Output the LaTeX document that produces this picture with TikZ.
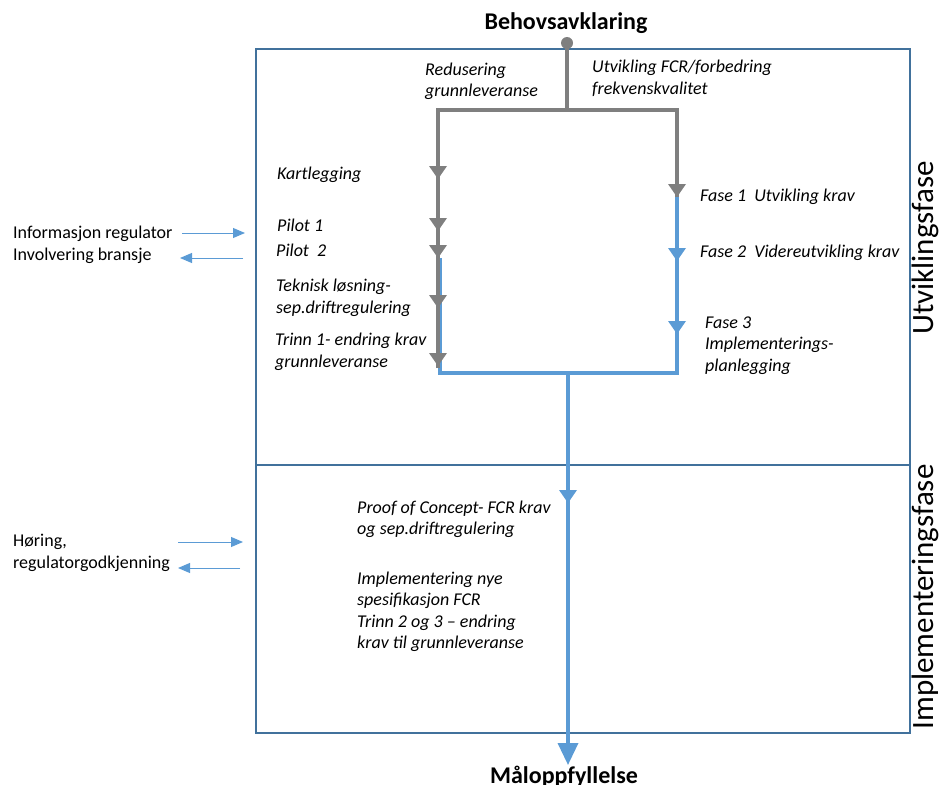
\documentclass[tikz,border=0pt]{standalone}
\usepackage{fontspec}
\setmainfont{Carlito}
\usetikzlibrary{arrows.meta}
\definecolor{lgray}{RGB}{127,127,127}
\definecolor{lblue}{RGB}{91,155,213}
\definecolor{bblue}{RGB}{65,113,156}
\newcommand\dtri[3]{\fill[#3] ({#1-9},{#2-13}) -- ({#1+9},{#2-13}) -- (#1,#2) -- cycle;}
\begin{document}
\begin{tikzpicture}[x=1pt,y=-1pt,
  lab/.style={font=\fontsize{18}{21.5}\selectfont\itshape, inner sep=0, align=left, anchor=base west},
  side/.style={font=\fontsize{18}{22}\selectfont, inner sep=0, align=left, anchor=base west},
  ttl/.style={font=\fontsize{24}{28}\selectfont\bfseries, inner sep=0, anchor=base},
  phase/.style={font=\fontsize{31}{34}\selectfont, inner sep=0, rotate=90, anchor=base},
  gline/.style={draw=lgray, line width=4pt},
  bline/.style={draw=lblue, line width=3.5pt},
  thinarr/.style={draw=lblue, line width=1pt, -{Triangle[length=12pt,width=10pt]}}
]
\useasboundingbox (0,0) rectangle (939,784);
% frame
\draw[bblue, line width=1.3pt] (256,49) rectangle (910,733);
\draw[bblue, line width=1.3pt] (256,465) -- (910,465);
% nodes and coordinates
\node[circle, fill=lgray, inner sep=0, minimum size=12pt] (dot) at (567,43) {};
\coordinate (j0) at (567,110);
\coordinate (jl) at (438,110);
\coordinate (jr) at (677,110);
\coordinate (ll) at (438,368);
\coordinate (lb) at (440,258);
\coordinate (bl) at (440,373);
\coordinate (br) at (677,373);
\coordinate (rs) at (677,197);
\coordinate (bm) at (568,373);
\coordinate (goalpt) at (568,765);
% blue path
\draw[bline] (rs) -- (br) -- (bl) -- (lb);
% gray paths
\draw[gline] (dot.center) -- (j0);
\draw[gline] (ll) -- (jl) -- (jr) -- (rs);
% central
\draw[bline, -{Triangle[length=22pt,width=20pt]}] (bm) -- (goalpt);
% markers
\dtri{438}{179}{lgray}
\dtri{438}{231}{lgray}
\dtri{438}{258}{lgray}
\dtri{438}{308}{lgray}
\dtri{438}{366}{lgray}
\dtri{677}{197}{lgray}
\dtri{677}{261}{lblue}
\dtri{677}{334}{lblue}
\dtri{568}{503}{lblue}
% titles
\node[ttl] (top) at (566,30) {Behovsavklaring};
\node[ttl] (goal) at (564,783) {Måloppfyllelse};
% labels (base = last line)
\node[lab] (red) at (425,96.5) {Redusering\\grunnleveranse};
\node[lab] (utv) at (592,94.5) {Utvikling FCR/forbedring\\frekvenskvalitet};
\node[lab] (kart) at (277,179) {Kartlegging};
\node[lab] (p1) at (277,231) {Pilot 1};
\node[lab] (p2) at (276,256) {Pilot\ \ 2};
\node[lab] (tek) at (276,313) {Teknisk løsning-\\sep.driftregulering};
\node[lab] (tr1) at (275,367) {Trinn 1- endring krav\\grunnleveranse};
\node[lab] (f1) at (700,201) {Fase 1\ \ Utvikling krav};
\node[lab] (f2) at (700,257) {Fase 2\ \ Videreutvikling krav};
\node[lab] (f3) at (705,371) {Fase 3\\Implementerings-\\planlegging};
\node[lab] (poc) at (357,534.5) {Proof of Concept- FCR krav\\og sep.driftregulering};
\node[lab] (impl) at (357,648.5) {Implementering nye\\spesifikasjon FCR\\Trinn 2 og 3 – endring\\krav til grunnleveranse};
% side
\node[side] (info) at (13,260) {Informasjon regulator\\Involvering bransje};
\node[side] (hor) at (13,568) {Høring,\\regulatorgodkjenning};
\coordinate (a1s) at (182,233); \coordinate (a1e) at (245,233);
\coordinate (a2s) at (243,258); \coordinate (a2e) at (180,258);
\coordinate (a3s) at (178,542); \coordinate (a3e) at (243,542);
\coordinate (a4s) at (240,568); \coordinate (a4e) at (178,568);
\draw[thinarr] (a1s) -- (a1e);
\draw[thinarr] (a2s) -- (a2e);
\draw[thinarr] (a3s) -- (a3e);
\draw[thinarr] (a4s) -- (a4e);
% phases
\node[phase] (uf) at (933,248) {Utviklingsfase};
\node[phase] (if) at (933,597) {Implementeringsfase};
\end{tikzpicture}
\end{document}
